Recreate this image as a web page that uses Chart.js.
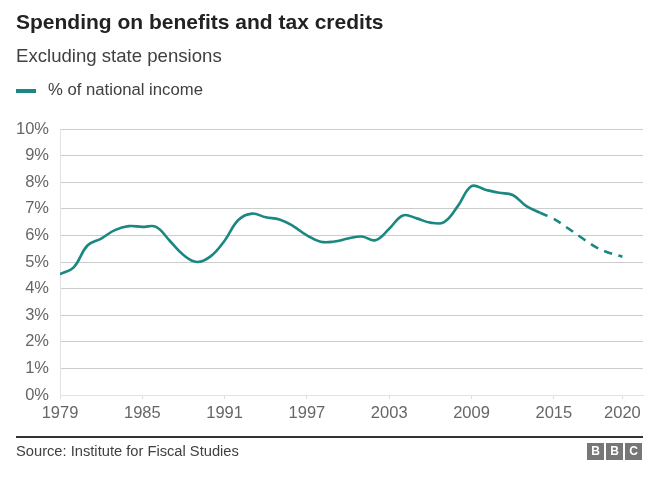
<!DOCTYPE html>
<html>
<head>
<meta charset="utf-8">
<script src="https://cdn.jsdelivr.net/npm/chart.js@4.4.1/dist/chart.umd.min.js"></script>
<style>
  html, body { margin: 0; padding: 0; background: #fff; }
  body { width: 660px; height: 481px; position: relative; overflow: hidden; font-family: "Liberation Sans", Arial, sans-serif; }
  #wrap { position: absolute; left: 0; top: 0; width: 660px; height: 481px; }
  .t { position: absolute; white-space: nowrap; }
  #title { left: 16px; top: 10px; font-size: 21px; font-weight: bold; color: #222; }
  #sub { left: 16px; top: 45px; font-size: 18.6px; color: #404040; }
  #leg { left: 48px; top: 80px; font-size: 16.7px; color: #404040; }
  #sw { position: absolute; left: 16px; top: 89px; width: 20px; height: 4px; background: #1a8780; }
  #rule { position: absolute; left: 16px; top: 436px; width: 627px; height: 2px; background: #333; }
  #src { left: 16px; top: 443px; font-size: 14.7px; color: #404040; }
  .bx { position: absolute; top: 443px; width: 17px; height: 17px; background: #777; color: #fff; font-weight: bold; font-size: 12px; line-height: 17px; text-align: center; }
</style>
</head>
<body>
<div id="wrap"><canvas id="c" width="660" height="481"></canvas></div>
<div class="t" id="title">Spending on benefits and tax credits</div>
<div class="t" id="sub">Excluding state pensions</div>
<div id="sw"></div>
<div class="t" id="leg">% of national income</div>
<div id="rule"></div>
<div class="t" id="src">Source: Institute for Fiscal Studies</div>
<div class="bx" style="left:587px">B</div>
<div class="bx" style="left:606px">B</div>
<div class="bx" style="left:625px">C</div>
<script>
const years = [1979,1980,1981,1982,1983,1984,1985,1986,1987,1988,1989,1990,1991,1992,1993,1994,1995,1996,1997,1998,1999,2000,2001,2002,2003,2004,2005,2006,2007,2008,2009,2010,2011,2012,2013,2014];
const actualValues = [4.54,4.8,5.62,5.88,6.2,6.35,6.32,6.32,5.8,5.26,5.0,5.22,5.8,6.58,6.82,6.68,6.6,6.35,6.0,5.76,5.77,5.88,5.96,5.82,6.25,6.75,6.64,6.48,6.5,7.1,7.85,7.72,7.6,7.52,7.1,6.85];
const forecastYears = [2014,2015,2016,2017,2018,2019,2020];
const forecastValues = [6.85,6.62,6.28,5.92,5.58,5.35,5.2];
const xTickYears = [1979,1985,1991,1997,2003,2009,2015,2020];
const yTicks = [0,1,2,3,4,5,6,7,8,9,10];

const teal = '#1a8780';
new Chart(document.getElementById('c'), {
  type: 'line',
  data: {
    datasets: [
      { label: '% of national income', data: years.map((y,i)=>({x:y, y:actualValues[i]})),
        borderColor: teal, borderWidth: 2.6, pointRadius: 0, tension: 0.4, fill: false },
      { label: 'forecast', data: forecastYears.map((y,i)=>({x:y, y:forecastValues[i]})),
        borderColor: teal, borderWidth: 2.6, borderDash: [8,7], pointRadius: 0, tension: 0.4, fill: false }
    ]
  },
  options: {
    responsive: false, animation: false,
    layout: { padding: { left: 0, right: 17, top: 129, bottom: 0 } },
    plugins: { legend: { display: false }, tooltip: { enabled: false } },
    scales: {
      x: {
        type: 'linear', min: 1979, max: 2021.5,
        afterBuildTicks: s => { s.ticks = xTickYears.map(v=>({value:v})); },
        afterFit: s => { s.height = 86; },
        grid: { display: true, drawOnChartArea: false, drawTicks: true, tickLength: 4, color: '#dddddd' },
        border: { display: true, color: '#e2e2e2', width: 1 },
        ticks: { callback: v => String(v), font: { family: 'Liberation Sans', size: 16.5 }, color: '#666', padding: 5, maxRotation: 0, autoSkip: false }
      },
      y: {
        min: 0, max: 10,
        afterBuildTicks: s => { s.ticks = yTicks.map(v=>({value:v})); },
        afterFit: s => { s.width = 60; },
        grid: { color: '#cccccc', drawTicks: false, lineWidth: 1 },
        border: { display: true, color: '#e2e2e2' },
        ticks: { callback: v => v + '%', font: { family: 'Liberation Sans', size: 16.5 }, color: '#666', padding: 11 }
      }
    }
  }
});
</script>
</body>
</html>
